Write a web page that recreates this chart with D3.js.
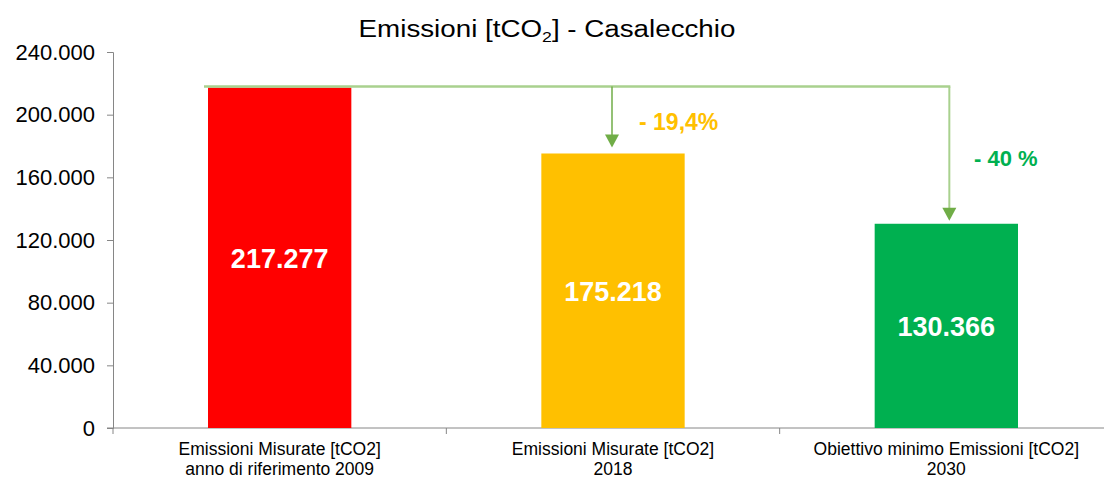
<!DOCTYPE html>
<html>
<head>
<meta charset="utf-8">
<script src="https://cdn.jsdelivr.net/npm/d3@7"></script>
<style>
  body { margin: 0; background: #fff; }
  svg { display: block; }
</style>
</head>
<body>
<div id="chart"></div>
<script>
// data
var categories = [
  ["Emissioni Misurate [tCO2]", "anno di riferimento 2009"],
  ["Emissioni Misurate [tCO2]", "2018"],
  ["Obiettivo minimo Emissioni [tCO2]", "2030"]
];
var values = [217277, 175218, 130366];
var barColors = ["#ff0000", "#ffc000", "#00b050"];
var yTicks = [0, 40000, 80000, 120000, 160000, 200000, 240000];
var deltaLabels = ["- 19,4%", "- 40 %"];
var deltaColors = ["#ffc000", "#00b050"];

var W = 1104, H = 479;
var FONT = "Liberation Sans, Arial, sans-serif";
var svg = d3.select("#chart").append("svg").attr("width", W).attr("height", H);

var x = d3.scaleBand().domain(d3.range(values.length)).range([113, 1113]).paddingInner(0.57).paddingOuter(0.285);
var y = d3.scaleLinear().domain([0, 240000]).range([428, 52]);

var fmt = function (v) { return v === 0 ? "0" : d3.format(",")(v).replace(/,/g, "."); };

// title with subscript, stretched a bit wider like the original
var tg = svg.append("g");
var title = tg.append("text").attr("x", 0).attr("y", 0).attr("text-anchor", "middle")
  .style("font-family", FONT).style("font-size", "23.5px").style("fill", "#000");
title.append("tspan").text("Emissioni [tCO");
title.append("tspan").text("2").style("font-size", "15px").attr("dy", 5);
title.append("tspan").text("] - Casalecchio").attr("dy", -5);
var tw = title.node().getComputedTextLength();
tg.attr("transform", "translate(547,37) scale(" + (377 / tw) + ",1)");

// y axis
var yAxis = svg.append("g").attr("transform", "translate(113,0)")
  .call(d3.axisLeft(y).tickValues(yTicks).tickFormat(fmt).tickSize(6).tickPadding(12));
yAxis.select(".domain").attr("stroke", "#868686");
yAxis.selectAll(".tick line").attr("stroke", "#868686");
yAxis.selectAll("text").style("font-family", FONT).style("font-size", "22px").style("fill", "#000");

// x axis line + ticks at category boundaries
var step = x.step();
var bounds = d3.range(values.length + 1).map(function (i) { return 113 + i * step; });
svg.append("line").attr("x1", 107).attr("x2", 1113).attr("y1", y(0)).attr("y2", y(0)).attr("stroke", "#868686");
svg.selectAll(".xt").data(bounds).enter().append("line")
  .attr("x1", function (d) { return d; }).attr("x2", function (d) { return d; })
  .attr("y1", y(0)).attr("y2", y(0) + 6).attr("stroke", "#868686");

// bars
svg.selectAll(".bar").data(values).enter().append("rect")
  .attr("x", function (d, i) { return x(i); })
  .attr("width", x.bandwidth())
  .attr("y", function (d) { return y(d); })
  .attr("height", function (d) { return y(0) - y(d); })
  .attr("fill", function (d, i) { return barColors[i]; });

// value labels
svg.selectAll(".val").data(values).enter().append("text")
  .attr("x", function (d, i) { return x(i) + x.bandwidth() / 2; })
  .attr("y", function (d) { return (y(d) + y(0)) / 2 + 10; })
  .attr("text-anchor", "middle")
  .style("font-family", FONT).style("font-weight", "bold")
  .style("font-size", "27px").style("fill", "#fff")
  .text(fmt);

// category labels
var cat = svg.selectAll(".cat").data(categories).enter().append("text")
  .attr("text-anchor", "middle")
  .attr("transform", function (d, i) { return "translate(" + (x(i) + x.bandwidth() / 2) + ",455)"; })
  .style("font-family", FONT)
  .style("font-size", "17.5px").style("fill", "#000");
cat.selectAll("tspan").data(function (d) { return d; }).enter().append("tspan")
  .attr("x", 0).attr("dy", function (d, i) { return i === 0 ? 0 : 20; })
  .text(function (d) { return d; });

// reduction arrows
var lineCol = "#a9d18e", headCol = "#70ad47";
var topY = y(values[0]) - 1;
var arrowX = [x(1) + x.bandwidth() / 2 - 1, x(2) + x.bandwidth() / 2 + 3];
var gaps = [6, 3];
svg.append("line").attr("x1", x(0) - 4).attr("x2", arrowX[1] + 1).attr("y1", topY).attr("y2", topY)
  .attr("stroke", lineCol).attr("stroke-width", 2.5);
arrowX.forEach(function (ax, k) {
  var tip = y(values[k + 1]) - gaps[k];
  svg.append("line").attr("x1", ax).attr("x2", ax).attr("y1", topY).attr("y2", tip - 11)
    .attr("stroke", k === 0 ? headCol : lineCol).attr("stroke-width", k === 0 ? 1.5 : 2);
  svg.append("path").attr("d", "M" + (ax - 7) + "," + (tip - 13) + "L" + (ax + 7) + "," + (tip - 13) + "L" + ax + "," + tip + "Z")
    .attr("fill", headCol);
});

// percentage labels
var pctPos = [[639, 130, 23], [974, 166, 22]];
svg.selectAll(".pct").data(deltaLabels).enter().append("text")
  .attr("x", function (d, i) { return pctPos[i][0]; })
  .attr("y", function (d, i) { return pctPos[i][1]; })
  .style("font-family", FONT).style("font-weight", "bold")
  .style("font-size", function (d, i) { return pctPos[i][2] + "px"; })
  .style("fill", function (d, i) { return deltaColors[i]; })
  .text(function (d) { return d; });
</script>
</body>
</html>
